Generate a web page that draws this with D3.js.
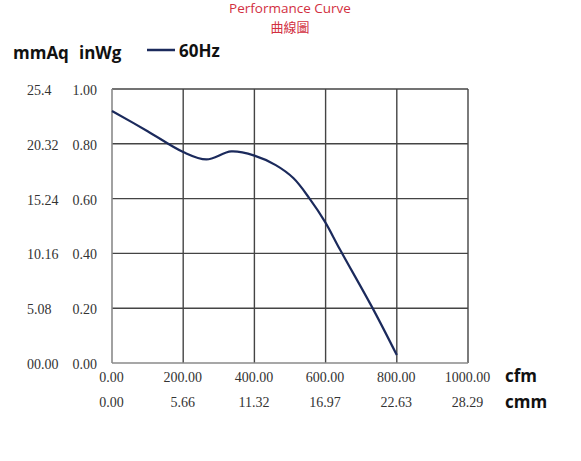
<!DOCTYPE html>
<html lang="en">
<head>
<meta charset="UTF-8">
<title>Performance Curve</title>
<style>
  body { margin: 0; background: #fff; }
</style>
</head>
<body>
<script src="https://d3js.org/d3.v7.min.js"></script>
<script>
// curve (cfm vs inWg)
var cfm  = [0, 100, 200, 265, 335, 400, 460, 510, 555, 598, 640, 735, 800];
var inWg = [0.92, 0.846, 0.770, 0.743, 0.772, 0.757, 0.722, 0.674, 0.600, 0.516, 0.415, 0.193, 0.029];

// tick labels
var cfmTicks  = [0, 200, 400, 600, 800, 1000];
var cfmLabels = ["0.00", "200.00", "400.00", "600.00", "800.00", "1000.00"];
var cmmLabels = ["0.00", "5.66", "11.32", "16.97", "22.63", "28.29"];
var inWgTicks  = [0, 0.2, 0.4, 0.6, 0.8, 1.0];
var inWgLabels = ["0.00", "0.20", "0.40", "0.60", "0.80", "1.00"];
var mmAqLabels = ["00.00", "5.08", "10.16", "15.24", "20.32", "25.4"];

var width = 581, height = 461;

var svg = d3.select("body")
    .append("svg")
    .attr("width", width)
    .attr("height", height);

var x = d3.scaleLinear().domain([0, 1000]).range([112, 468]);
var y = d3.scaleLinear().domain([0, 1]).range([363, 89]);

// title
svg.append("text")
    .attr("x", 290).attr("y", 13)
    .attr("text-anchor", "middle")
    .style("font-family", "'Open Sans', sans-serif")
    .style("font-size", "13.5px")
    .attr("fill", "#d2303f")
    .text("Performance Curve");
svg.append("text")
    .attr("x", 290).attr("y", 32)
    .attr("text-anchor", "middle")
    .style("font-family", "'Noto Sans CJK TC', sans-serif")
    .style("font-size", "13px")
    .attr("fill", "#d2303f")
    .text("曲線圖");

// unit headers + legend
var bold = function(sel) {
    return sel.style("font-family", "'Open Sans', sans-serif")
        .style("font-weight", "bold")
        .style("font-size", "17px")
        .attr("fill", "#111");
};
bold(svg.append("text").attr("x", 13).attr("y", 59).text("mmAq"));
bold(svg.append("text").attr("x", 79).attr("y", 59).text("inWg"));
svg.append("line")
    .attr("x1", 147).attr("x2", 175)
    .attr("y1", 50).attr("y2", 50)
    .attr("stroke", "#1b2a5c").attr("stroke-width", 2.5);
bold(svg.append("text").attr("x", 179).attr("y", 57).text("60Hz"));

// grid
var grid = svg.append("g");
grid.selectAll("line.v")
    .data(cfmTicks.slice(1))
    .enter().append("line")
    .attr("x1", d => x(d)).attr("x2", d => x(d))
    .attr("y1", y(1)).attr("y2", y(0))
    .attr("stroke", "#444").attr("stroke-width", 1.4);
grid.selectAll("line.h")
    .data(inWgTicks.slice(1))
    .enter().append("line")
    .attr("x1", x(0)).attr("x2", x(1000))
    .attr("y1", d => y(d)).attr("y2", d => y(d))
    .attr("stroke", "#444").attr("stroke-width", 1.4);
// left and bottom border are lighter
grid.append("line")
    .attr("x1", x(0)).attr("x2", x(0))
    .attr("y1", y(1)).attr("y2", y(0))
    .attr("stroke", "#8a8a8a").attr("stroke-width", 1.6);
grid.append("line")
    .attr("x1", x(0)).attr("x2", x(1000))
    .attr("y1", y(0)).attr("y2", y(0))
    .attr("stroke", "#8a8a8a").attr("stroke-width", 1.6);

// axes (labels only)
function styleAxis(g) {
    g.select(".domain").remove();
    g.selectAll("text")
        .style("font-family", "'Liberation Serif', 'Times New Roman', serif")
        .style("font-size", "14px")
        .attr("fill", "#333");
}

svg.append("g")
    .attr("transform", "translate(97,1)")
    .call(d3.axisLeft(y).tickValues(inWgTicks).tickSize(0).tickPadding(0)
        .tickFormat((d, i) => inWgLabels[i]))
    .call(styleAxis);

svg.append("g")
    .attr("transform", "translate(27,1)")
    .call(d3.axisLeft(y).tickValues(inWgTicks).tickSize(0).tickPadding(0)
        .tickFormat((d, i) => mmAqLabels[i]))
    .call(styleAxis)
    .selectAll("text").attr("text-anchor", "start");

svg.append("g")
    .attr("transform", "translate(-1,372)")
    .call(d3.axisBottom(x).tickValues(cfmTicks).tickSize(0).tickPadding(0)
        .tickFormat((d, i) => cfmLabels[i]))
    .call(styleAxis);

svg.append("g")
    .attr("transform", "translate(-1,397)")
    .call(d3.axisBottom(x).tickValues(cfmTicks).tickSize(0).tickPadding(0)
        .tickFormat((d, i) => cmmLabels[i]))
    .call(styleAxis);

bold(svg.append("text").attr("x", 505).attr("y", 382).text("cfm"));
bold(svg.append("text").attr("x", 505).attr("y", 408).text("cmm"));

// curve
var line = d3.line()
    .x((d, i) => x(cfm[i]))
    .y((d, i) => y(inWg[i]))
    .curve(d3.curveCatmullRom.alpha(0.5));

svg.append("path")
    .datum(cfm)
    .attr("d", line)
    .attr("fill", "none")
    .attr("stroke", "#1b2a5c")
    .attr("stroke-width", 2.2);
</script>
</body>
</html>
